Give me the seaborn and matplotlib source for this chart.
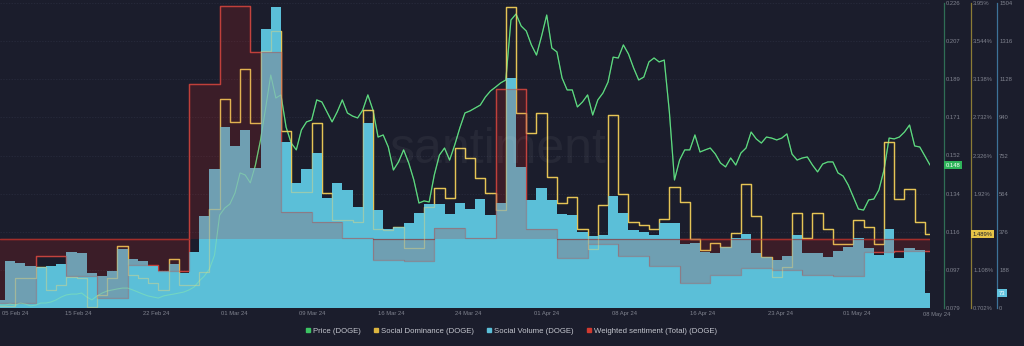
import numpy as np
import matplotlib
matplotlib.use("Agg")
import matplotlib.pyplot as plt
import matplotlib.transforms as mtransforms
from matplotlib.lines import Line2D
import seaborn as sns

# ---------------- data ----------------
days = np.arange(-1, 91)  # daily buckets, day 0 = first full bar

social_volume = [39, 232, 222, 207, 202, 207, 217, 276, 271, 173, 158, 182, 291, 242, 232, 207,
                 182, 217, 173, 276, 454, 685, 893, 799, 878, 690, 1376, 1484, 819, 616, 685, 764,
                 542, 616, 582, 498, 912, 483, 390, 399, 419, 468, 513, 513, 464, 518, 488, 537,
                 459, 518, 1134, 695, 533, 592, 533, 464, 459, 375, 355, 360, 552, 468, 385, 375,
                 360, 419, 419, 316, 321, 276, 271, 301, 345, 365, 271, 251, 237, 256, 360, 271,
                 271, 251, 281, 301, 345, 296, 261, 390, 247, 296, 286, 73]

social_dominance = [0.723, 0.723, 1.022, 1.022, 1.139, 0.894, 0.947, 1.032, 1.022, 0.713, 0.840,
                    1.022, 1.362, 1.053, 1.022, 0.968, 0.894, 1.224, 0.947, 0.947, 1.085, 1.756,
                    2.928, 2.683, 3.247, 2.672, 3.439, 3.652, 2.587, 1.937, 1.937, 2.672, 1.927,
                    1.639, 1.639, 1.618, 2.811, 1.543, 1.533, 1.565, 1.341, 1.341, 1.778, 1.980,
                    1.874, 2.406, 2.300, 2.087, 1.927, 1.746, 3.908, 2.779, 2.566, 2.779, 2.097,
                    1.820, 1.884, 1.543, 1.330, 1.799, 2.757, 1.916, 1.618, 1.586, 1.543, 1.650,
                    1.991, 1.831, 1.437, 1.320, 1.394, 1.352, 1.501, 2.023, 1.682, 1.245, 1.032,
                    1.139, 1.714, 1.448, 1.714, 1.543, 1.384, 1.384, 1.639, 1.565, 1.384, 2.470,
                    1.863, 1.969, 1.618, 1.489]

weighted_sentiment = [-1.28, -1.28, -1.28, -1.28,
                      -0.34, -0.34, -0.34, -0.74, -0.74, -0.74, -1.18, -1.18, -1.18,
                      -0.52, -0.52, -0.52, -0.64, -0.64, -0.64, 3.10, 3.10, 3.10,
                      4.66, 4.66, 4.66, 3.74, 3.74, 3.74, 0.54, 0.54, 0.54,
                      0.34, 0.34, 0.34, 0.02, 0.02, 0.02, -0.42, -0.42, -0.42,
                      -0.44, -0.44, -0.44, 0.22, 0.22, 0.22, 0.02, 0.02, 0.02,
                      3.00, 3.00, 3.00, 0.20, 0.20, 0.20, -0.38, -0.38, -0.38,
                      -0.10, -0.10, -0.10, -0.34, -0.34, -0.34, -0.54, -0.54, -0.54,
                      -0.88, -0.88, -0.88, -0.72, -0.72, -0.72, -0.58, -0.58, -0.58,
                      -0.62, -0.62, -0.62, -0.72, -0.72, -0.72, -0.74, -0.74, -0.74,
                      -0.26, -0.26, -0.26, -0.24, -0.24, -0.24, -0.24]

# price sampled every 12 hours, starting at day -1
price = [0.0804, 0.0804, 0.0809, 0.0804, 0.0814, 0.0809, 0.0800, 0.0804, 0.0814, 0.0814,
         0.0819, 0.0829, 0.0843, 0.0853, 0.0857, 0.0857, 0.0862, 0.0843, 0.0829, 0.0848,
         0.0862, 0.0872, 0.0877, 0.0882, 0.0886, 0.0886, 0.0877, 0.0867, 0.0857, 0.0848,
         0.0843, 0.0838, 0.0848, 0.0853, 0.0857, 0.0862, 0.0867, 0.0877, 0.0891, 0.0920,
         0.0944, 0.0978, 0.1045, 0.1238, 0.1272, 0.1291, 0.1344, 0.1441, 0.1431, 0.1393,
         0.1479, 0.1600, 0.1754, 0.1913, 0.1802, 0.1817, 0.1662, 0.1585, 0.1552, 0.1648,
         0.1687, 0.1696, 0.1793, 0.1783, 0.1735, 0.1687, 0.1735, 0.1793, 0.1730, 0.1715,
         0.1706, 0.1744, 0.1817, 0.1744, 0.1614, 0.1624, 0.1566, 0.1455, 0.1494, 0.1552,
         0.1489, 0.1407, 0.1296, 0.1306, 0.1301, 0.1431, 0.1527, 0.1561, 0.1503, 0.1576,
         0.1658, 0.1730, 0.1740, 0.1754, 0.1768, 0.1807, 0.1836, 0.1855, 0.1875, 0.1889,
         0.2178, 0.2207, 0.2149, 0.2125, 0.2058, 0.2009, 0.2101, 0.2202, 0.2043, 0.2024,
         0.1899, 0.1841, 0.1841, 0.1759, 0.1783, 0.1817, 0.1720, 0.1793, 0.1826, 0.1879,
         0.1999, 0.1995, 0.2058, 0.2014, 0.1947, 0.1889, 0.1903, 0.1976, 0.1995, 0.1976,
         0.1985, 0.1735, 0.1407, 0.1503, 0.1552, 0.1552, 0.1624, 0.1542, 0.1552, 0.1561,
         0.1532, 0.1489, 0.1470, 0.1513, 0.1479, 0.1537, 0.1561, 0.1638, 0.1605, 0.1585,
         0.1614, 0.1609, 0.1600, 0.1609, 0.1629, 0.1532, 0.1503, 0.1513, 0.1518, 0.1479,
         0.1446, 0.1484, 0.1494, 0.1494, 0.1441, 0.1426, 0.1383, 0.1325, 0.1267, 0.1262,
         0.1311, 0.1315, 0.1359, 0.1455, 0.1609, 0.1605, 0.1614, 0.1638, 0.1672, 0.1571,
         0.1566, 0.1523, 0.1479]
price_days = -1 + 0.5 * np.arange(len(price))

x_tick_days = [0.48, 6.64, 14.27, 21.91, 29.54, 37.27, 44.80, 52.53, 60.07, 67.70, 75.33, 82.87, 90.69]
x_tick_labels = ["05 Feb 24", "15 Feb 24", "22 Feb 24", "01 Mar 24", "09 Mar 24", "16 Mar 24",
                 "24 Mar 24", "01 Apr 24", "08 Apr 24", "16 Apr 24", "23 Apr 24", "01 May 24", "08 May 24"]
price_tick_labels = ["0.079", "0.097", "0.116", "0.134", "0.152", "0.171", "0.189", "0.207", "0.226"]
dom_tick_labels = ["0.702%", "1.108%", "1.514%", "1.92%", "2.326%", "2.732%", "3.138%", "3.544%", "3.95%"]
vol_tick_labels = ["0", "188", "376", "564", "752", "940", "1128", "1316", "1504"]

legend_labels = ["Price (DOGE)", "Social Dominance (DOGE)", "Social Volume (DOGE)",
                 "Weighted sentiment (Total) (DOGE)"]

PRICE_LIM = (0.079, 0.226)
DOM_LIM = (0.702, 3.95)
VOL_LIM = (0, 1504)
SENT_LIM = (-1.38, 4.72)
X_LIM = (-0.99, 90.0)

# ---------------- style ----------------
BG = "#1b1d2c"
GREEN = "#3cc463"
YELLOW = "#dcb53f"
BLUE = "#5bbfd8"
RED = "#d13a30"
RED_FILL = "#c0201a"
TICK_C = "#80838f"

sns.set_theme(style="dark")
plt.rcParams["font.family"] = ["Liberation Sans", "DejaVu Sans"]

fig = plt.figure(figsize=(10.24, 3.46), dpi=100, facecolor=BG)
ax_p = fig.add_axes([0, 38 / 346, 930 / 1024, 305 / 346])
ax_p.set_facecolor(BG)
ax_d = ax_p.twinx()
ax_s_lo = ax_p.twinx()
ax_v = ax_p.twinx()
ax_s = ax_p.twinx()
ax_p_hi = ax_p.twinx()
ax_d_hi = ax_p.twinx()
all_axes = [ax_p, ax_d, ax_s_lo, ax_v, ax_s, ax_p_hi, ax_d_hi]
for z, a in enumerate(all_axes, start=1):
    a.set_zorder(z)
    if a is not ax_p:
        a.patch.set_visible(False)
    for sp in a.spines.values():
        sp.set_visible(False)

# price (under bars + faint overlay above bars)
sns.lineplot(x=price_days, y=price, ax=ax_p, color=GREEN, linewidth=0.9)
sns.lineplot(x=price_days, y=price, ax=ax_p_hi, color="#8ff0a8", linewidth=0.8, alpha=0.45)
# social dominance
sns.lineplot(x=days, y=social_dominance, ax=ax_d, color=YELLOW, linewidth=1.0, drawstyle="steps-mid")
sns.lineplot(x=days, y=social_dominance, ax=ax_d_hi, color="#f3dc7a", linewidth=0.9, alpha=0.4,
             drawstyle="steps-mid")
# weighted sentiment line under bars
sent_arr = np.array(weighted_sentiment)
sns.lineplot(x=days, y=weighted_sentiment, ax=ax_s_lo, color=RED, linewidth=1.0, drawstyle="steps-mid")
zero_edge = np.where(sent_arr < 0, 0.0, np.nan)
ax_s_lo.plot(days, zero_edge, drawstyle="steps-mid", color=RED, linewidth=1.0)
# social volume bars
sns.barplot(x=days, y=social_volume, ax=ax_v, native_scale=True, width=1.0, color=BLUE,
            saturation=1, linewidth=0, errorbar=None)
# weighted sentiment area above bars
ax_s.fill_between(days, 0, weighted_sentiment, step="mid", color=RED_FILL, alpha=0.2, linewidth=0)
sns.lineplot(x=days, y=weighted_sentiment, ax=ax_s, color="#b05050", linewidth=0.9, alpha=0.45,
             drawstyle="steps-mid")
ax_s.plot(days, zero_edge, drawstyle="steps-mid", color="#8a2a2a", linewidth=0.9, alpha=0.6)

ax_p.set_ylim(*PRICE_LIM)
ax_p_hi.set_ylim(*PRICE_LIM)
ax_d.set_ylim(*DOM_LIM)
ax_d_hi.set_ylim(*DOM_LIM)
ax_v.set_ylim(*VOL_LIM)
ax_s.set_ylim(*SENT_LIM)
ax_s_lo.set_ylim(*SENT_LIM)
for a in all_axes:
    a.set_xlim(*X_LIM)
    a.set_xlabel("")
    a.set_ylabel("")
    if a.get_legend() is not None:
        a.get_legend().remove()

# y axes on the right with offset spines
spec = [(ax_p, PRICE_LIM, price_tick_labels, 944 / 930, "#2f6e55"),
        (ax_d, DOM_LIM, dom_tick_labels, 971 / 930, "#8c7c35"),
        (ax_v, VOL_LIM, vol_tick_labels, 997 / 930, "#3d7399")]
for a, lim, labels, pos, col in spec:
    a.yaxis.tick_right()
    a.yaxis.set_visible(True)
    a.spines["right"].set_visible(True)
    a.spines["right"].set_position(("axes", pos))
    a.spines["right"].set_color(col)
    a.spines["right"].set_linewidth(0.9)
    a.set_yticks(np.linspace(lim[0], lim[1], len(labels)))
    a.set_yticklabels(labels)
    a.tick_params(axis="y", length=0, pad=1.5, labelsize=4.2, labelcolor=TICK_C)
for a in [ax_s_lo, ax_s, ax_p_hi, ax_d_hi]:
    a.yaxis.set_visible(False)

ax_p.grid(axis="y", color="#2a2d3f", linewidth=0.5, linestyle=(0, (2, 2)))
ax_p.grid(axis="x", visible=False)

ax_p.set_xticks(x_tick_days[:-1])
ax_p.set_xticklabels(x_tick_labels[:-1])
ax_p.tick_params(axis="x", length=0, pad=2, labelsize=4.2, labelcolor=TICK_C)
ax_p.text(x_tick_days[-1], -0.013, x_tick_labels[-1], transform=mtransforms.blended_transform_factory(
    ax_p.transData, ax_p.transAxes), ha="center", va="top", fontsize=4.2, color=TICK_C, clip_on=False)

# current-value boxes
def value_box(ax, pos, val, txt, fc, tc):
    tr = mtransforms.blended_transform_factory(ax.transAxes, ax.transData)
    ax.text(pos + 0.002, val, txt, transform=tr, ha="left", va="center", fontsize=4.2, color=tc,
            clip_on=False, zorder=20,
            bbox=dict(boxstyle="square,pad=0.25", fc=fc, ec="none"))

value_box(ax_p_hi, 944 / 930, price[-1], f"{price[-1]:.3f}", "#2fb45a", "white")
value_box(ax_d_hi, 971 / 930, social_dominance[-1], f"{social_dominance[-1]:.3f}%", "#e6c447", "#1b1d2c")
tr_v = mtransforms.blended_transform_factory(ax_d_hi.transAxes, ax_v.transData)
ax_d_hi.text(997 / 930 + 0.002, social_volume[-1], f"{social_volume[-1]}", transform=tr_v, ha="left",
             va="center", fontsize=4.2, color="white", clip_on=False, zorder=20,
             bbox=dict(boxstyle="square,pad=0.25", fc="#62c4df", ec="none"))

# watermark
fig.text(498 / 1024, 1 - 150 / 346, "santiment", fontsize=36, color="white", alpha=0.05,
         ha="center", va="center", zorder=30)

# legend
handles = [Line2D([], [], marker="s", linestyle="none", markersize=3.3, color=c)
           for c in [GREEN, YELLOW, BLUE, RED]]
fig.legend(handles, legend_labels, loc="center", bbox_to_anchor=(511 / 1024, 1 - 331 / 346), ncol=4,
           frameon=False, fontsize=5.6, handlelength=0.7, handletextpad=0.3, columnspacing=1.6,
           labelcolor="#c5c7cf")

fig.savefig("out.png", dpi=100, facecolor=BG)
